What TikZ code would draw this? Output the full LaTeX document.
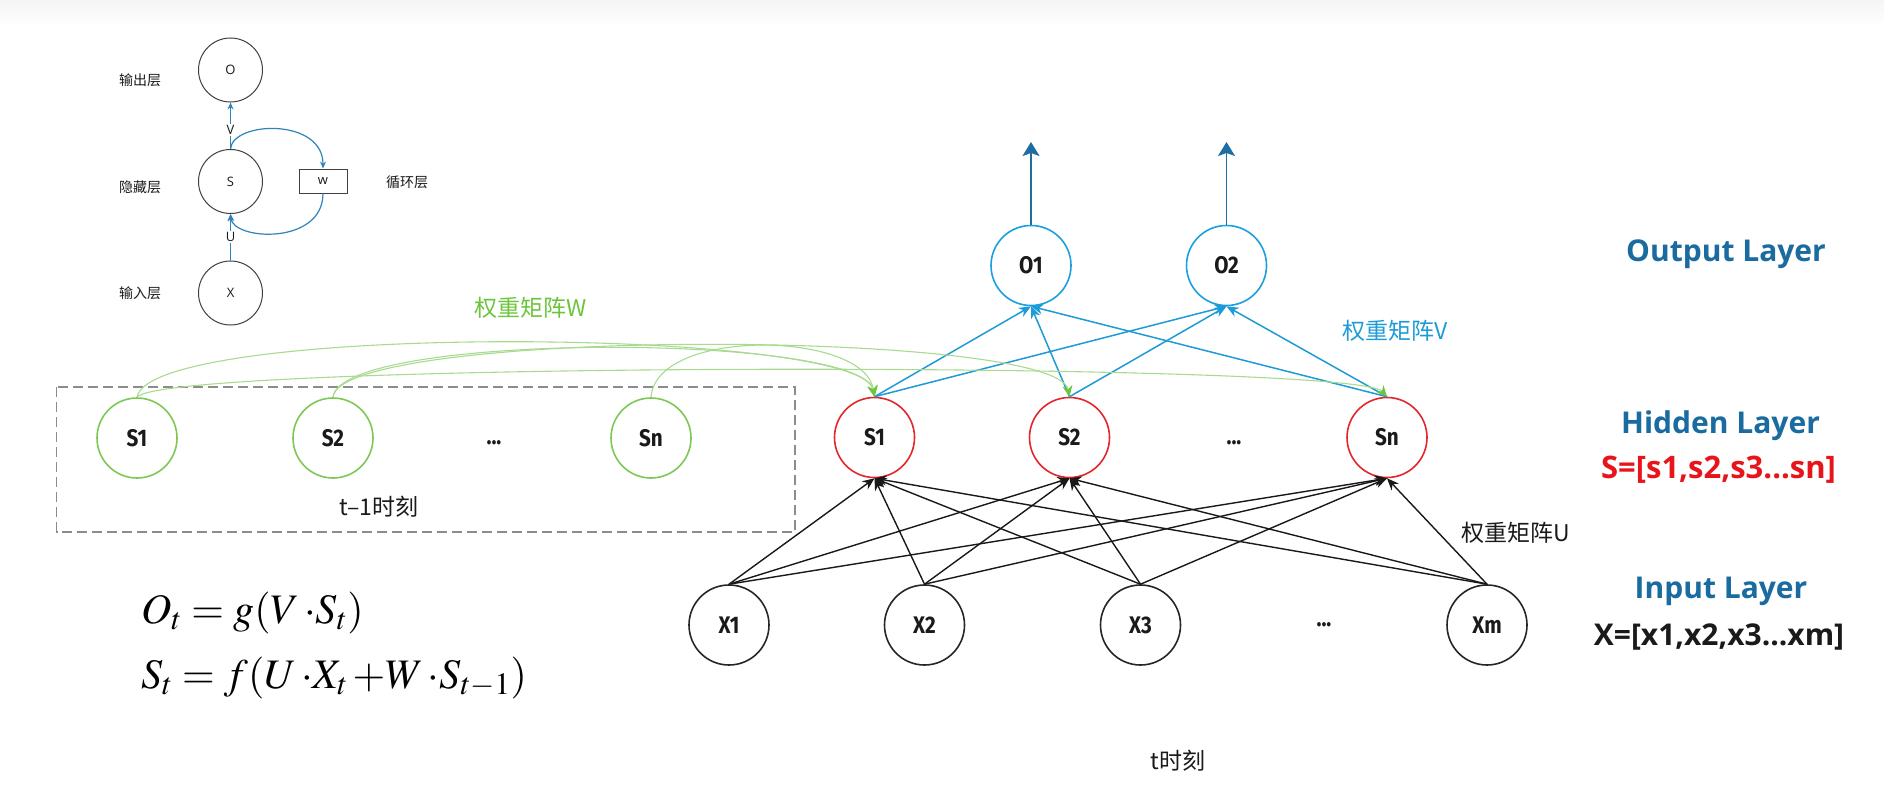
\documentclass[tikz,border=0pt]{standalone}
\usepackage{mathptmx}
\usepackage[no-math]{fontspec}
\newfontfamily\cjk{Noto Sans CJK SC}
\newfontfamily\firac{Fira Sans}[FakeStretch=0.86]
\newfontfamily\opens{Open Sans}
\usetikzlibrary{arrows.meta}
\definecolor{gnodec}{HTML}{7DC855}
\definecolor{glinec}{HTML}{A8DB90}
\definecolor{gtipc}{HTML}{6CC63C}
\definecolor{rnodec}{HTML}{E3262A}
\definecolor{onodec}{HTML}{1AA0E0}
\definecolor{blinec}{HTML}{1E9BD7}
\definecolor{upc}{HTML}{1F6EA3}
\definecolor{layerc}{HTML}{1A6B9F}
\definecolor{redtxt}{HTML}{E8141B}
\definecolor{smallc}{HTML}{2F84BB}
\definecolor{txtc}{HTML}{1A1A1A}
\tikzset{
  bignode/.style={circle, line width=1.6pt, minimum size=80pt, inner sep=0pt, text=txtc,
    font=\firac\bfseries\fontsize{24}{24}\selectfont},
  gnode/.style={bignode, draw=gnodec},
  rnode/.style={bignode, draw=rnodec},
  onode/.style={bignode, draw=onodec},
  xnode/.style={bignode, draw=black!85},
  dotsnode/.style={inner sep=0pt, text=txtc, font=\firac\bfseries\fontsize{24}{24}\selectfont},
  snode/.style={circle, draw=black!75, line width=1pt, minimum size=64pt, inner sep=0pt,
    text=txtc, font=\opens\fontsize{13}{13}\selectfont},
  sbox/.style={draw=black!75, line width=1pt, minimum width=48pt, minimum height=24pt,
    inner sep=0pt, text=txtc, font=\opens\fontsize{13}{13}\selectfont},
  slbl/.style={text=txtc, font=\cjk\fontsize{14}{14}\selectfont},
  sletter/.style={fill=white, inner sep=1.5pt, text=txtc, font=\opens\fontsize{13}{13}\selectfont},
  sarrow/.style={draw=smallc, line width=1.2pt, -{Stealth[length=7pt,width=6pt]}},
  wline/.style={draw=glinec, line width=1.1pt, -{Stealth[length=11pt,width=10pt,color=gtipc]}},
  bline/.style={draw=blinec, line width=1.5pt, -{Stealth[length=12pt,width=10pt]}},
  kline/.style={draw=black!90, line width=1.4pt, -{Stealth[length=12pt,width=10pt]}},
  upline/.style={draw=upc, line width=1.6pt, -{Stealth[length=14pt,width=17pt,inset=3pt]}},
  cjklbl/.style={font=\cjk\fontsize{23}{23}\selectfont},
  layerlbl/.style={text=layerc, font=\opens\bfseries\fontsize{30}{30}\selectfont},
  vecl/.style={font=\opens\bfseries\fontsize{30}{30}\selectfont},
  dashbox/.style={draw=black!45, line width=1.8pt, dash pattern=on 10pt off 5pt},
  formula/.style={anchor=base west, inner sep=0pt, font=\fontsize{42}{46}\selectfont}
}
\begin{document}
\begin{tikzpicture}[x=1pt, y=-1pt]
\useasboundingbox (0,0) rectangle (1884,808);
\fill[white] (0,0) rectangle (1884,808);
\shade[top color=black!4, bottom color=white] (0,0) rectangle (1884,26);

% ---------- small diagram ----------
\node[snode] (sO) at (230.5,70) {O};
\node[snode] (sS) at (230.5,181.5) {S};
\node[snode] (sX) at (230.5,293) {X};
\node[sbox] (sw) at (323,181) {w};
\node[slbl] (l1) at (140,80) {输出层};
\node[slbl] (l2) at (140,187) {隐藏层};
\node[slbl] (l3) at (140,293) {输入层};
\node[slbl] (l4) at (407,182) {循环层};
\draw[sarrow] (sS.north) -- node[sletter, pos=0.41] {V} (sO.south);
\draw[sarrow] (sX.north) -- node[sletter, pos=0.51] {U} (sS.south);
\draw[sarrow] (sS.north) .. controls +(2,-28) and +(0,-51) .. (sw.north);
\draw[sarrow] (sw.south) .. controls +(0,52) and +(2.5,26.5) .. (sS.south);

% ---------- t-1 ----------
\draw[dashbox] (56.5,387.3) rectangle (795,532);
\node[gnode] (gS1) at (137,438) {S1};
\node[gnode] (gS2) at (333,438) {S2};
\node[dotsnode] (gD) at (494,443) {...};
\node[gnode] (gSn) at (651,438) {Sn};
\node[cjklbl, text=txtc] (tm1) at (379,507) {t–1时刻};
\node[cjklbl, text=gtipc] (wlab) at (531,308) {权重矩阵W};

% ---------- t ----------
\node[rnode] (rS1) at (874.5,437.5) {S1};
\node[rnode] (rS2) at (1069.5,437.5) {S2};
\node[dotsnode] (rD) at (1234,443) {...};
\node[rnode] (rSn) at (1387,437.5) {Sn};

\node[onode] (O1) at (1031,265.5) {O1};
\node[onode] (O2) at (1226.5,265.5) {O2};
\coordinate (o1up) at (1031,142);
\coordinate (o2up) at (1226.5,142);
\draw[upline] (O1.north) -- (o1up);
\draw[upline] (O2.north) -- (o2up);

\node[xnode] (X1) at (729,625) {X1};
\node[xnode] (X2) at (924.5,625) {X2};
\node[xnode] (X3) at (1140.5,625) {X3};
\node[dotsnode] (xD) at (1324,625) {...};
\node[xnode] (Xm) at (1487,625) {Xm};

% black U connections
\foreach \a in {X1,X2,X3,Xm}{
  \foreach \b in {rS1,rS2,rSn}{
    \draw[kline] (\a.north) -- (\b.south);
  }
}
% blue V connections
\foreach \a in {rS1,rS2,rSn}{
  \foreach \b in {O1,O2}{
    \draw[bline] (\a.north) -- (\b.south);
  }
}
% green W connections
\draw[wline] (gS1.north) .. controls +(13,-75) and +(-13,-70) .. (rS1.north);
\draw[wline] (gS2.north) .. controls +(7,-66) and +(-13,-64) .. (rS1.north);
\draw[wline] (gSn.north) .. controls +(5,-70) and +(-10,-66) .. (rS1.north);
\draw[wline] (gS2.north) .. controls +(7,-70) and +(-13,-68) .. (rS2.north);
\draw[wline] (gS1.north) .. controls +(28,-36) and +(-32,-36) .. (rSn.north);

\node[cjklbl, text=blinec] (vlab) at (1395,331) {权重矩阵V};
\node[cjklbl, text=txtc] (ulab) at (1516,533) {权重矩阵U};
\node[cjklbl, text=txtc] (tlab) at (1178,761) {t时刻};

% right labels
\node[layerlbl] (outl) at (1726,254) {Output Layer};
\node[layerlbl] (hidl) at (1720.5,426) {Hidden Layer};
\node[vecl, text=redtxt, font=\opens\bfseries\fontsize{31}{31}\selectfont] (svec) at (1718.5,470) {S=[s1,s2,s3...sn]};
\node[layerlbl] (inl) at (1721,591) {Input Layer};
\node[vecl, text=txtc] (xvec) at (1719,637) {X=[x1,x2,x3...xm]};

% formulas
\node[formula] (f1) at (141,623) {$O_t = g(V\,{\cdot}S_t)$};
\node[formula] (f2) at (141,688) {$S_t = f(U\,{\cdot}X_t\,{+}W\,{\cdot}S_{t-1})$};
\end{tikzpicture}
\end{document}
